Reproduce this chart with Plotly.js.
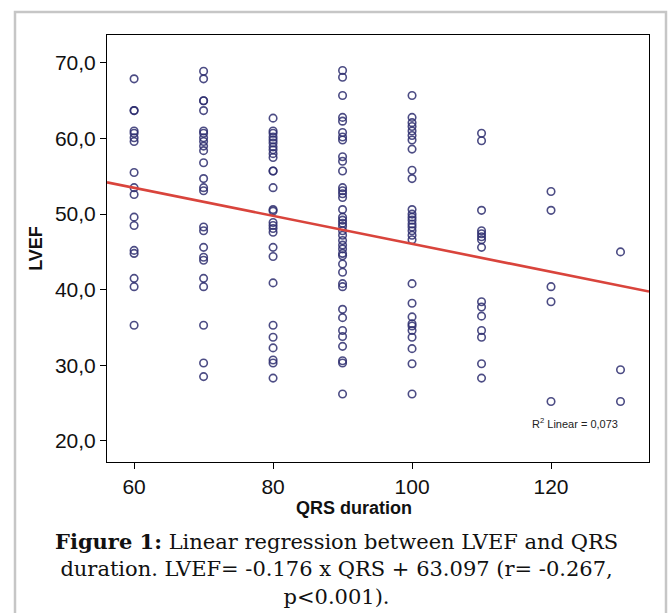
<!DOCTYPE html>
<html>
<head>
<meta charset="utf-8">
<script src="https://cdn.plot.ly/plotly-3.0.1.min.js"></script>
<style>
  html, body { margin: 0; padding: 0; background: #ffffff; }
  #chart { width: 672px; height: 613px; }
</style>
</head>
<body>
<div id="chart"></div>
<script>
// ---- Data ----
const qrsLevels = [60, 70, 80, 90, 100, 110, 120, 130];
const lvef60  = [67.9, 63.7, 63.7, 61.0, 60.7, 60.1, 59.6, 55.5, 53.5, 52.6, 49.6, 48.5, 45.2, 44.8, 41.5, 40.4, 35.3];
const lvef70  = [68.9, 67.9, 65.0, 65.0, 63.7, 61.0, 60.7, 60.1, 59.6, 59.0, 58.4, 56.8, 54.7, 53.5, 53.1, 48.3, 47.8, 45.6, 44.3, 43.9, 41.5, 40.4, 35.3, 30.3, 28.5];
const lvef80  = [62.7, 61.0, 60.7, 60.2, 59.8, 59.4, 58.9, 58.5, 58.0, 57.5, 55.7, 55.7, 53.5, 50.6, 50.4, 48.9, 48.5, 48.1, 47.6, 45.6, 44.4, 40.9, 35.3, 33.7, 32.3, 30.7, 30.3, 28.3];
const lvef90  = [69.0, 68.1, 65.7, 62.8, 62.3, 60.8, 60.2, 59.8, 57.6, 57.0, 55.7, 53.5, 53.1, 52.7, 52.2, 50.6, 49.6, 49.2, 48.8, 48.4, 47.8, 47.2, 46.5, 45.9, 45.4, 44.8, 44.5, 43.4, 42.3, 40.8, 40.4, 37.4, 36.3, 34.6, 33.8, 32.5, 30.6, 30.3, 26.2];
const lvef100 = [65.7, 62.8, 62.1, 61.6, 61.0, 60.4, 59.8, 58.6, 55.8, 54.7, 50.6, 50.0, 49.6, 49.2, 48.7, 48.3, 47.8, 47.2, 46.6, 40.8, 38.2, 36.4, 35.5, 35.2, 34.6, 33.7, 32.2, 30.2, 26.2];
const lvef110 = [60.7, 59.7, 50.5, 47.8, 47.4, 47.0, 46.6, 45.6, 38.4, 37.7, 36.5, 34.6, 33.7, 30.2, 28.3];
const lvef120 = [53.0, 50.5, 40.4, 38.4, 25.2];
const lvef130 = [45.0, 29.4, 25.2];

// Fit line end points (as drawn in the picture)
const fitQRS  = [56.1, 134.1];
const fitLVEF = [54.2, 39.75];

const xTickVals = [60, 80, 100, 120];
const xTickText = ['60', '80', '100', '120'];
const yTickVals = [20, 30, 40, 50, 60, 70];
const yTickText = ['20,0', '30,0', '40,0', '50,0', '60,0', '70,0'];

const xTitle = 'QRS duration';
const yTitle = 'LVEF';
const r2Label = 'R<sup>2</sup> Linear = 0,073';
const captionText = '<b>Figure 1:</b> Linear regression between LVEF and QRS<br>duration. LVEF= -0.176 x QRS + 63.097 (r= -0.267,<br>p&lt;0.001).';

// ---- Build scatter points ----
const groups = [lvef60, lvef70, lvef80, lvef90, lvef100, lvef110, lvef120, lvef130];
const xs = [], ys = [];
groups.forEach((g, i) => g.forEach(v => { xs.push(qrsLevels[i]); ys.push(v); }));

// ---- Layout geometry (pixels) ----
const W = 672, H = 613;
const L = 107, R = 649, T = 35, B = 462;
const px = p => (p - L) / (R - L);
const py = p => (B - p) / (B - T);
const sans = '"Liberation Sans", Arial, sans-serif';

const traces = [
  {
    type: 'scatter', mode: 'markers', x: xs, y: ys,
    marker: { symbol: 'circle-open', size: 7.5, color: 'rgba(45,45,110,0.85)', line: { width: 1.6, color: 'rgba(45,45,110,0.85)' } },
    hoverinfo: 'x+y', showlegend: false
  },
  {
    type: 'scatter', mode: 'lines', x: fitQRS, y: fitLVEF,
    line: { color: '#d9443c', width: 2.6 }, showlegend: false
  }
];

const layout = {
  width: W, height: H,
  paper_bgcolor: '#ffffff', plot_bgcolor: '#ffffff',
  margin: { l: L, r: W - R, t: T, b: H - B, pad: 0 },
  font: { family: sans, color: '#111111' },
  showlegend: false,
  xaxis: {
    range: [56.1, 134.1], tickmode: 'array', tickvals: xTickVals, ticktext: xTickText,
    ticks: 'outside', ticklen: 6, tickwidth: 1, tickcolor: '#000',
    showline: true, linecolor: '#000', linewidth: 1, mirror: true,
    showgrid: false, zeroline: false,
    tickfont: { size: 21, color: '#111', family: sans }
  },
  yaxis: {
    range: [17.2, 73.7], tickmode: 'array', tickvals: yTickVals, ticktext: yTickText,
    ticks: 'outside', ticklen: 6, tickwidth: 1, tickcolor: '#000',
    showline: true, linecolor: '#000', linewidth: 1, mirror: true,
    showgrid: false, zeroline: false,
    tickfont: { size: 21, color: '#111', family: sans },
    title: { text: yTitle, font: { size: 18, color: '#111', family: sans, weight: 'bold' }, standoff: 7 }
  },
  shapes: [
    { type: 'rect', xref: 'paper', yref: 'paper', x0: px(15), x1: px(666), y0: py(650), y1: py(12),
      line: { color: '#c6c6c6', width: 2.5 }, fillcolor: 'rgba(0,0,0,0)', layer: 'below' }
  ],
  annotations: [
    { xref: 'paper', yref: 'paper', x: px(354), y: py(508), text: '<b>' + xTitle + '</b>', showarrow: false,
      font: { size: 18, color: '#111', family: sans }, xanchor: 'center', yanchor: 'middle' },
    { xref: 'paper', yref: 'paper', x: px(575), y: py(423), text: r2Label, showarrow: false,
      font: { size: 11, color: '#222', family: sans }, xanchor: 'center', yanchor: 'middle' },
    { xref: 'paper', yref: 'paper', x: px(336), y: py(527), text: captionText, showarrow: false,
      font: { size: 21, color: '#111', family: '"DejaVu Serif", "Liberation Serif", serif' },
      xanchor: 'center', yanchor: 'top', align: 'center' }
  ]
};

Plotly.newPlot('chart', traces, layout, { displayModeBar: false, staticPlot: true });
</script>
</body>
</html>
